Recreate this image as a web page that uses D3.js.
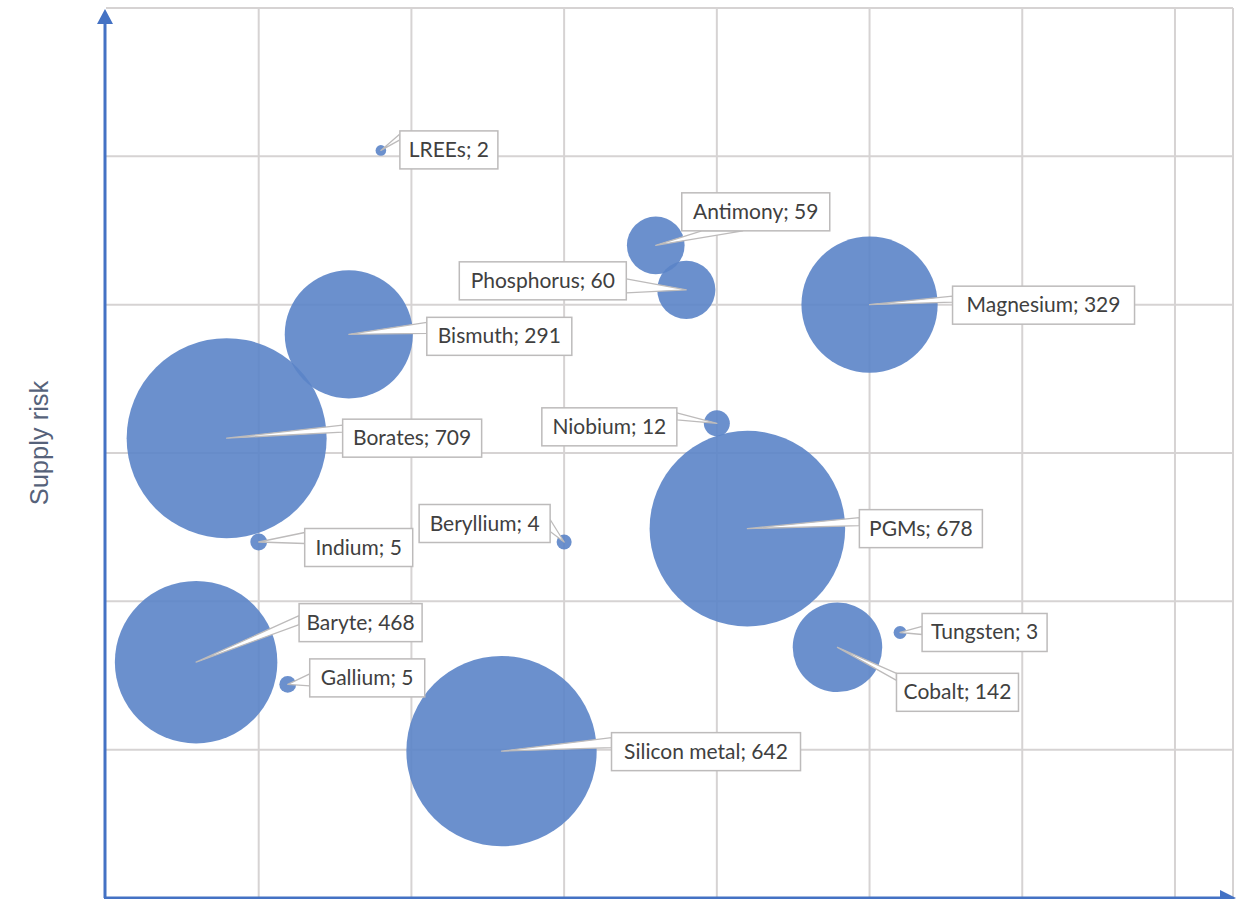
<!DOCTYPE html>
<html>
<head>
<meta charset="utf-8">
<script src="https://cdn.jsdelivr.net/npm/d3@7"></script>
<style>
  html, body { margin: 0; padding: 0; background: #ffffff; }
  svg { display: block; }
</style>
</head>
<body>
<script>
// ---- Data ----
const materials = ["Borates", "PGMs", "Silicon metal", "Baryte", "Magnesium", "Bismuth", "Cobalt",
  "Phosphorus", "Antimony", "Niobium", "Indium", "Gallium", "Beryllium", "Tungsten", "LREEs"];
const economicImportance = [0.79, 4.20, 2.59, 0.59, 5.00, 1.59, 4.79, 3.80, 3.60, 4.00, 1.00, 1.19, 3.00, 5.20, 1.80];
const supplyRisk = [3.10, 2.49, 0.99, 1.59, 4.00, 3.80, 1.69, 4.10, 4.40, 3.20, 2.40, 1.44, 2.40, 1.79, 5.04];
const bubbleSize = [709, 678, 642, 468, 329, 291, 142, 60, 59, 12, 5, 5, 4, 3, 2];
const xGridTicks = [0, 1, 2, 3, 4, 5, 6, 7];
const yGridTicks = [0, 1, 2, 3, 4, 5, 6];
const yAxisTitle = "Supply risk";

// ---- Label layout (callout offsets from bubble centre, box width, leader side & base span; px) ----
const labelLayout = {
  "Borates":       { dx: 185.5, dy: 0,    w: 139, side: "left",   base: [-13, -6] },
  "PGMs":          { dx: 173.5, dy: 0,    w: 123, side: "left",   base: [-11, -3] },
  "Silicon metal": { dx: 204.5, dy: 0.5,  w: 189, side: "left",   base: [-14, -4] },
  "Baryte":        { dx: 164.5, dy: -39.5,w: 123, side: "left",   base: [-7, 2] },
  "Magnesium":     { dx: 174,   dy: 0.5,  w: 182, side: "left",   base: [-9, -3] },
  "Bismuth":       { dx: 150.5, dy: 2,    w: 145, side: "left",   base: [-14, -3] },
  "Cobalt":        { dx: 120,   dy: 45,   w: 122, side: "left",   base: [-19, -12] },
  "Phosphorus":    { dx: -143.5,dy: -9,   w: 167, side: "right",  base: [-2, 12] },
  "Antimony":      { dx: 100,   dy: -33.5,w: 148, side: "bottom", base: [-54, -13] },
  "Niobium":       { dx: -107.5,dy: 3.5,  w: 135, side: "right",  base: [-14, -7] },
  "Indium":        { dx: 100,   dy: 5.5,  w: 108, side: "left",   base: [-15, -4] },
  "Gallium":       { dx: 79.5,  dy: -6.5, w: 115, side: "left",   base: [-4, 8] },
  "Beryllium":     { dx: -79.5, dy: -18.5,w: 131, side: "right",  base: [-4, 8] },
  "Tungsten":      { dx: 84.5,  dy: 0,    w: 125, side: "left",   base: [-6, 2] },
  "LREEs":         { dx: 68,    dy: -0.5, w: 98,  side: "left",   base: [-16, -10] }
};

const W = 1243, H = 899;
const svg = d3.select("body").append("svg").attr("width", W).attr("height", H);

const x = d3.scaleLinear().domain([0, 7.38]).range([106, 1233]);
const y = d3.scaleLinear().domain([0, 6]).range([898, 8]);
const r = d3.scaleSqrt().domain([0, 709]).range([0, 100]);

// ---- Grid ----
const gridColor = "#d6d3d3";
const grid = svg.append("g");
grid.selectAll("line.vx").data(xGridTicks.slice(1)).join("line")
  .attr("x1", d => x(d)).attr("x2", d => x(d)).attr("y1", y(6)).attr("y2", y(0))
  .attr("stroke", gridColor).attr("stroke-width", 2);
grid.selectAll("line.hy").data(yGridTicks.slice(1)).join("line")
  .attr("x1", x(0)).attr("x2", x.range()[1]).attr("y1", d => y(d)).attr("y2", d => y(d))
  .attr("stroke", gridColor).attr("stroke-width", 2);
grid.append("line").attr("x1", x.range()[1]).attr("x2", x.range()[1]).attr("y1", y(6)).attr("y2", y(0))
  .attr("stroke", gridColor).attr("stroke-width", 2);

// ---- Bubbles ----
const data = materials.map((m, i) => ({ name: m, ei: economicImportance[i], sr: supplyRisk[i], size: bubbleSize[i] }));
svg.append("g").selectAll("circle").data(data).join("circle")
  .attr("cx", d => x(d.ei)).attr("cy", d => y(d.sr)).attr("r", d => r(d.size))
  .attr("fill", "#5b84c8").attr("fill-opacity", 0.9);

// ---- Axes (arrows) ----
const axisColor = "#4472C4";
const axes = svg.append("g");
axes.append("line").attr("x1", 105).attr("x2", 105).attr("y1", y(0)).attr("y2", 22)
  .attr("stroke", axisColor).attr("stroke-width", 3);
axes.append("path").attr("d", `M105,9 L97,24 L113,24 Z`).attr("fill", axisColor);
axes.append("line").attr("x1", 104).attr("x2", 1222).attr("y1", 898).attr("y2", 898)
  .attr("stroke", axisColor).attr("stroke-width", 3);
axes.append("path").attr("d", `M1236,898 L1220,890 L1220,906 Z`).attr("fill", axisColor);

// axis title
svg.append("text")
  .attr("transform", `translate(48,${(y(0) + y(6)) / 2 - 10}) rotate(-90)`)
  .attr("text-anchor", "middle")
  .attr("font-family", "Liberation Sans, Arial, sans-serif")
  .attr("font-size", 25.5).attr("fill", "#56627a")
  .text(yAxisTitle);

// ---- Callout labels ----
const lbl = svg.append("g");
data.forEach(d => {
  const L = labelLayout[d.name];
  const px = x(d.ei), py = y(d.sr);
  const cx = px + L.dx, cy = py + L.dy;
  const g = lbl.append("g");
  const t = g.append("text").attr("x", cx).attr("y", cy + 7)
    .attr("text-anchor", "middle")
    .attr("font-family", "Lato, 'Open Sans', sans-serif")
    .attr("font-size", 21).attr("fill", "#404040")
    .text(`${d.name}; ${d.size}`);
  const tw = t.node().getComputedTextLength();
  const bw = Math.max(L.w, tw + 12), bh = 38;
  const x0 = cx - bw / 2, x1 = cx + bw / 2, y0 = cy - bh / 2, y1 = cy + bh / 2;
  let b1, b2;
  if (L.side === "left") { b1 = [x0, cy + L.base[0]]; b2 = [x0, cy + L.base[1]]; }
  else if (L.side === "right") { b1 = [x1, cy + L.base[0]]; b2 = [x1, cy + L.base[1]]; }
  else if (L.side === "bottom") { b1 = [cx + L.base[0], y1]; b2 = [cx + L.base[1], y1]; }
  else { b1 = [cx + L.base[0], y0]; b2 = [cx + L.base[1], y0]; }
  g.insert("path", "text")
    .attr("d", `M${px},${py} L${b1[0]},${b1[1]} L${b2[0]},${b2[1]} Z`)
    .attr("fill", "#ffffff").attr("stroke", "#bdbbbb").attr("stroke-width", 1.3)
    .attr("stroke-linejoin", "round");
  g.insert("rect", "text")
    .attr("x", x0).attr("y", y0).attr("width", bw).attr("height", bh)
    .attr("fill", "#ffffff").attr("stroke", "#bdbbbb").attr("stroke-width", 1.5);
});
</script>
</body>
</html>
